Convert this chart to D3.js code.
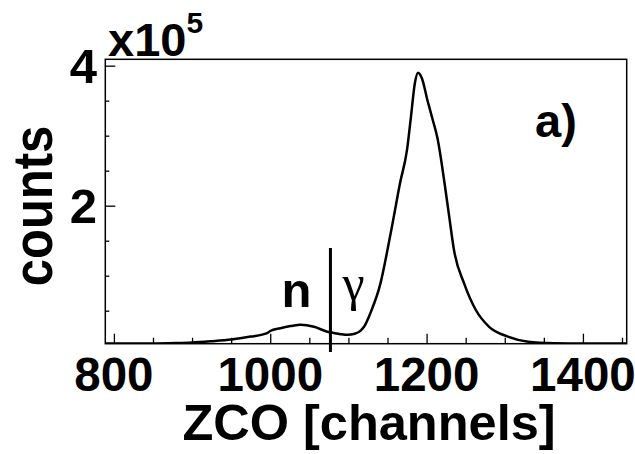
<!DOCTYPE html>
<html>
<head>
<meta charset="utf-8">
<script src="https://cdn.jsdelivr.net/npm/d3@7"></script>
<style>
  body { margin: 0; background: #fff; }
  text { font-family: "Liberation Sans", Arial, sans-serif; font-weight: bold; fill: #000; }
</style>
</head>
<body>
<div id="chart"></div>
<script>
// ZCO spectrum (counts in units of 1)
const channels = [789, 820, 850, 880, 900, 925, 950, 975, 996, 1000, 1013, 1026, 1039, 1056, 1073, 1082, 1090, 1099, 1108, 1116, 1120, 1129, 1141, 1150, 1158, 1166, 1175, 1180, 1185, 1189, 1194, 1201, 1208, 1214, 1223, 1229, 1235, 1248, 1263, 1280, 1304, 1330, 1363, 1400, 1456]
const counts = [3000, 3000, 3200, 3700, 4500, 6500, 9000, 13000, 18000, 21000, 25000, 28000, 30000, 27000, 20000, 18000, 16500, 15500, 17000, 22000, 27000, 49000, 89000, 137000, 184000, 232000, 280000, 327000, 375000, 390000, 382000, 351000, 322000, 296000, 232000, 184000, 137000, 89000, 51000, 27000, 13000, 5700, 3500, 3000, 3000]

const xTicks = [800, 1000, 1200, 1400]
const yTicks = [200000, 400000]
const nGammaCut = 1077

const width = 635, height = 454
const mLeft = 105.3, mRight = 626.7, mTop = 59.3, mBottom = 343.7

const svg = d3.select("#chart").append("svg")
   .attr("width", width)
   .attr("height", height)

const x = d3.scaleLinear().domain([789, 1456]).range([mLeft, mRight])
const y = d3.scaleLinear().domain([2860, 409100]).range([mBottom, mTop])

// clip pour la courbe
svg.append("defs").append("clipPath").attr("id", "plotClip")
   .append("rect")
   .attr("x", mLeft).attr("y", mTop)
   .attr("width", mRight - mLeft).attr("height", mBottom - mTop)

// axe x : ticks majeurs (200) et mineurs (50)
const xAxis = d3.axisTop(x)
   .tickValues(d3.range(800, 1456, 50))
   .tickSize(6)
   .tickFormat("")
svg.append("g")
   .attr("transform", `translate(0,${mBottom})`)
   .call(xAxis)
   .call(g => g.select(".domain").remove())
   .call(g => g.selectAll(".tick line")
      .attr("stroke", "#000")
      .attr("stroke-width", 1.3)
      .attr("y2", d => xTicks.includes(d) ? -10 : -6))

svg.append("g")
   .selectAll("text")
   .data(xTicks)
   .join("text")
   .attr("x", d => x(d))
   .attr("y", 391)
   .attr("text-anchor", "middle")
   .attr("font-size", 47.5)
   .text(d => d)

// axe y : ticks majeurs (2e5) et mineurs (0.5e5)
const yAxis = d3.axisRight(y)
   .tickValues(d3.range(50000, 409100, 50000))
   .tickSize(4)
   .tickFormat("")
svg.append("g")
   .attr("transform", `translate(${mLeft},0)`)
   .call(yAxis)
   .call(g => g.select(".domain").remove())
   .call(g => g.selectAll(".tick line")
      .attr("stroke", "#000")
      .attr("stroke-width", 1.3)
      .attr("x2", d => yTicks.includes(d) ? 10 : 4))

svg.append("g")
   .selectAll("text")
   .data(yTicks)
   .join("text")
   .attr("x", 97)
   .attr("y", d => y(d) + 17)
   .attr("text-anchor", "end")
   .attr("font-size", 49)
   .text(d => d / 100000)

// x10^5
const mult = svg.append("text")
   .attr("x", 108)
   .attr("y", 56)
   .attr("font-size", 47)
mult.append("tspan").text("x10")
mult.append("tspan").attr("font-size", 30).attr("dy", -23).text("5")

// cadre
svg.append("rect")
   .attr("x", mLeft).attr("y", mTop)
   .attr("width", mRight - mLeft).attr("height", mBottom - mTop)
   .attr("fill", "none")
   .attr("stroke", "#000")
   .attr("stroke-width", 1.5)

// spectre
const line = d3.line()
   .x((d, i) => x(channels[i]))
   .y(d => y(d))
   .curve(d3.curveMonotoneX)

svg.append("path")
   .datum(counts)
   .attr("clip-path", "url(#plotClip)")
   .attr("d", line)
   .attr("fill", "none")
   .attr("stroke", "#000")
   .attr("stroke-width", 2.5)

// séparation n / gamma
svg.append("line")
   .attr("x1", x(nGammaCut)).attr("x2", x(nGammaCut))
   .attr("y1", 248).attr("y2", 352)
   .attr("stroke", "#000")
   .attr("stroke-width", 3)

svg.append("text")
   .attr("x", x(nGammaCut) - 19)
   .attr("y", 307)
   .attr("text-anchor", "end")
   .attr("font-size", 49)
   .text("n")

svg.append("text")
   .attr("x", x(nGammaCut) + 12)
   .attr("y", 300)
   .style("font-weight", "normal")
   .style("font-family", "'Liberation Serif', serif")
   .attr("font-size", 50)
   .text("γ")

svg.append("text")
   .attr("x", 535)
   .attr("y", 137)
   .attr("font-size", 47)
   .text("a)")

// titres des axes
svg.append("text")
   .attr("x", 369)
   .attr("y", 440)
   .attr("text-anchor", "middle")
   .attr("font-size", 50.5)
   .text("ZCO [channels]")

svg.append("text")
   .attr("transform", "translate(52,206) rotate(-90) scale(1,1.15)")
   .attr("text-anchor", "middle")
   .attr("font-size", 49)
   .text("counts")
</script>
</body>
</html>
